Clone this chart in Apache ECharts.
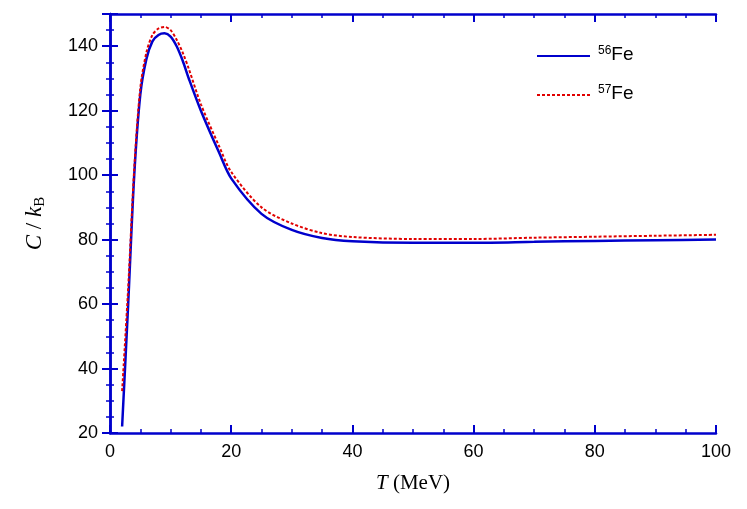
<!DOCTYPE html>
<html><head><meta charset="utf-8">
<script src="https://cdn.jsdelivr.net/npm/echarts@6/dist/echarts.min.js"></script>
<style>html,body{margin:0;padding:0;background:#fff}#c{width:747px;height:509px}</style>
</head><body><div id="c"></div>
<script>
const T = [2,3,4,5,6,7,8,9,10,11,12,13,15,18,20,25,30,35,40,50,60,70,80,90,100];
const fe56 = [22,60,100,125,136,141.5,143.5,144,143,140,135.5,130,120,107,99,88,83,80.5,79.5,79,79,79.3,79.6,79.8,80];
const fe57 = [33,65,102,127,138,143.5,145.5,146,145,142,138,133,122,109,101,90,85,82,80.8,80.2,80.2,80.6,80.9,81.2,81.5];
const xTicks = [0,20,40,60,80,100];
const yTicks = [20,40,60,80,100,120,140];
const blue = '#0000cc';
const ch = echarts.init(document.getElementById('c'));
const axLine = {show:true,lineStyle:{color:blue,width:2.5}};
const lab = {color:'#000',fontSize:18,fontFamily:'Liberation Sans'};
function ax(extra){return Object.assign({type:'value',axisLine:axLine,axisTick:{inside:true,length:8,lineStyle:{color:blue,width:2}},minorTick:{show:true,splitNumber:4,length:4,lineStyle:{color:blue,width:1.5}},splitLine:{show:false}},extra);}
ch.setOption({
 animation:false,
 grid:{left:110,right:31,top:14,bottom:76},
 xAxis:[ax({min:0,max:100,interval:20,axisLabel:Object.assign({margin:10},lab),name:'{i|T} (MeV)',nameLocation:'middle',nameGap:40,nameTextStyle:{fontSize:21,fontFamily:'Liberation Serif',color:'#000',rich:{i:{fontStyle:'italic',fontSize:21,fontFamily:'Liberation Serif'}}}}),
        ax({position:'top',min:0,max:100,interval:20,axisLabel:{show:false}})],
 yAxis:[ax({min:20,max:150,interval:20,axisLabel:Object.assign({margin:12,formatter:v=>yTicks.includes(v)?v:''},lab),name:'{i|C} / {i|k}{s|B}',nameLocation:'middle',nameGap:62,nameTextStyle:{fontSize:23,fontFamily:'Liberation Serif',color:'#000',rich:{i:{fontStyle:'italic',fontSize:23,fontFamily:'Liberation Serif'},s:{fontSize:15,fontFamily:'Liberation Serif',verticalAlign:'bottom',padding:[12,0,0,0]}}}}),
        ax({position:'right',min:20,max:150,interval:20,axisLabel:{show:false}})],
 series:[
  {type:'line',data:T.map((t,i)=>[t,fe56[i]]),smooth:0.3,symbol:'none',lineStyle:{color:blue,width:2.5}},
  {type:'line',data:T.map((t,i)=>[t,fe57[i]]),smooth:0.3,symbol:'none',lineStyle:{color:'#e00000',width:2,type:[3,2]}}
 ],
 graphic:[
  {type:'line',shape:{x1:537,y1:56,x2:590,y2:56},style:{stroke:blue,lineWidth:2}},
  {type:'text',x:598,y:45,style:{text:'{s|56}{n|Fe}',rich:{s:{fontSize:12,fontFamily:'Liberation Sans',verticalAlign:'top',padding:[0,0,8,0]},n:{fontSize:19,fontFamily:'Liberation Sans'}}}},
  {type:'line',shape:{x1:537,y1:95,x2:590,y2:95},style:{stroke:'#e00000',lineWidth:2,lineDash:[3,2]}},
  {type:'text',x:598,y:84,style:{text:'{s|57}{n|Fe}',rich:{s:{fontSize:12,fontFamily:'Liberation Sans',verticalAlign:'top',padding:[0,0,8,0]},n:{fontSize:19,fontFamily:'Liberation Sans'}}}}
 ]
});
</script></body></html>
